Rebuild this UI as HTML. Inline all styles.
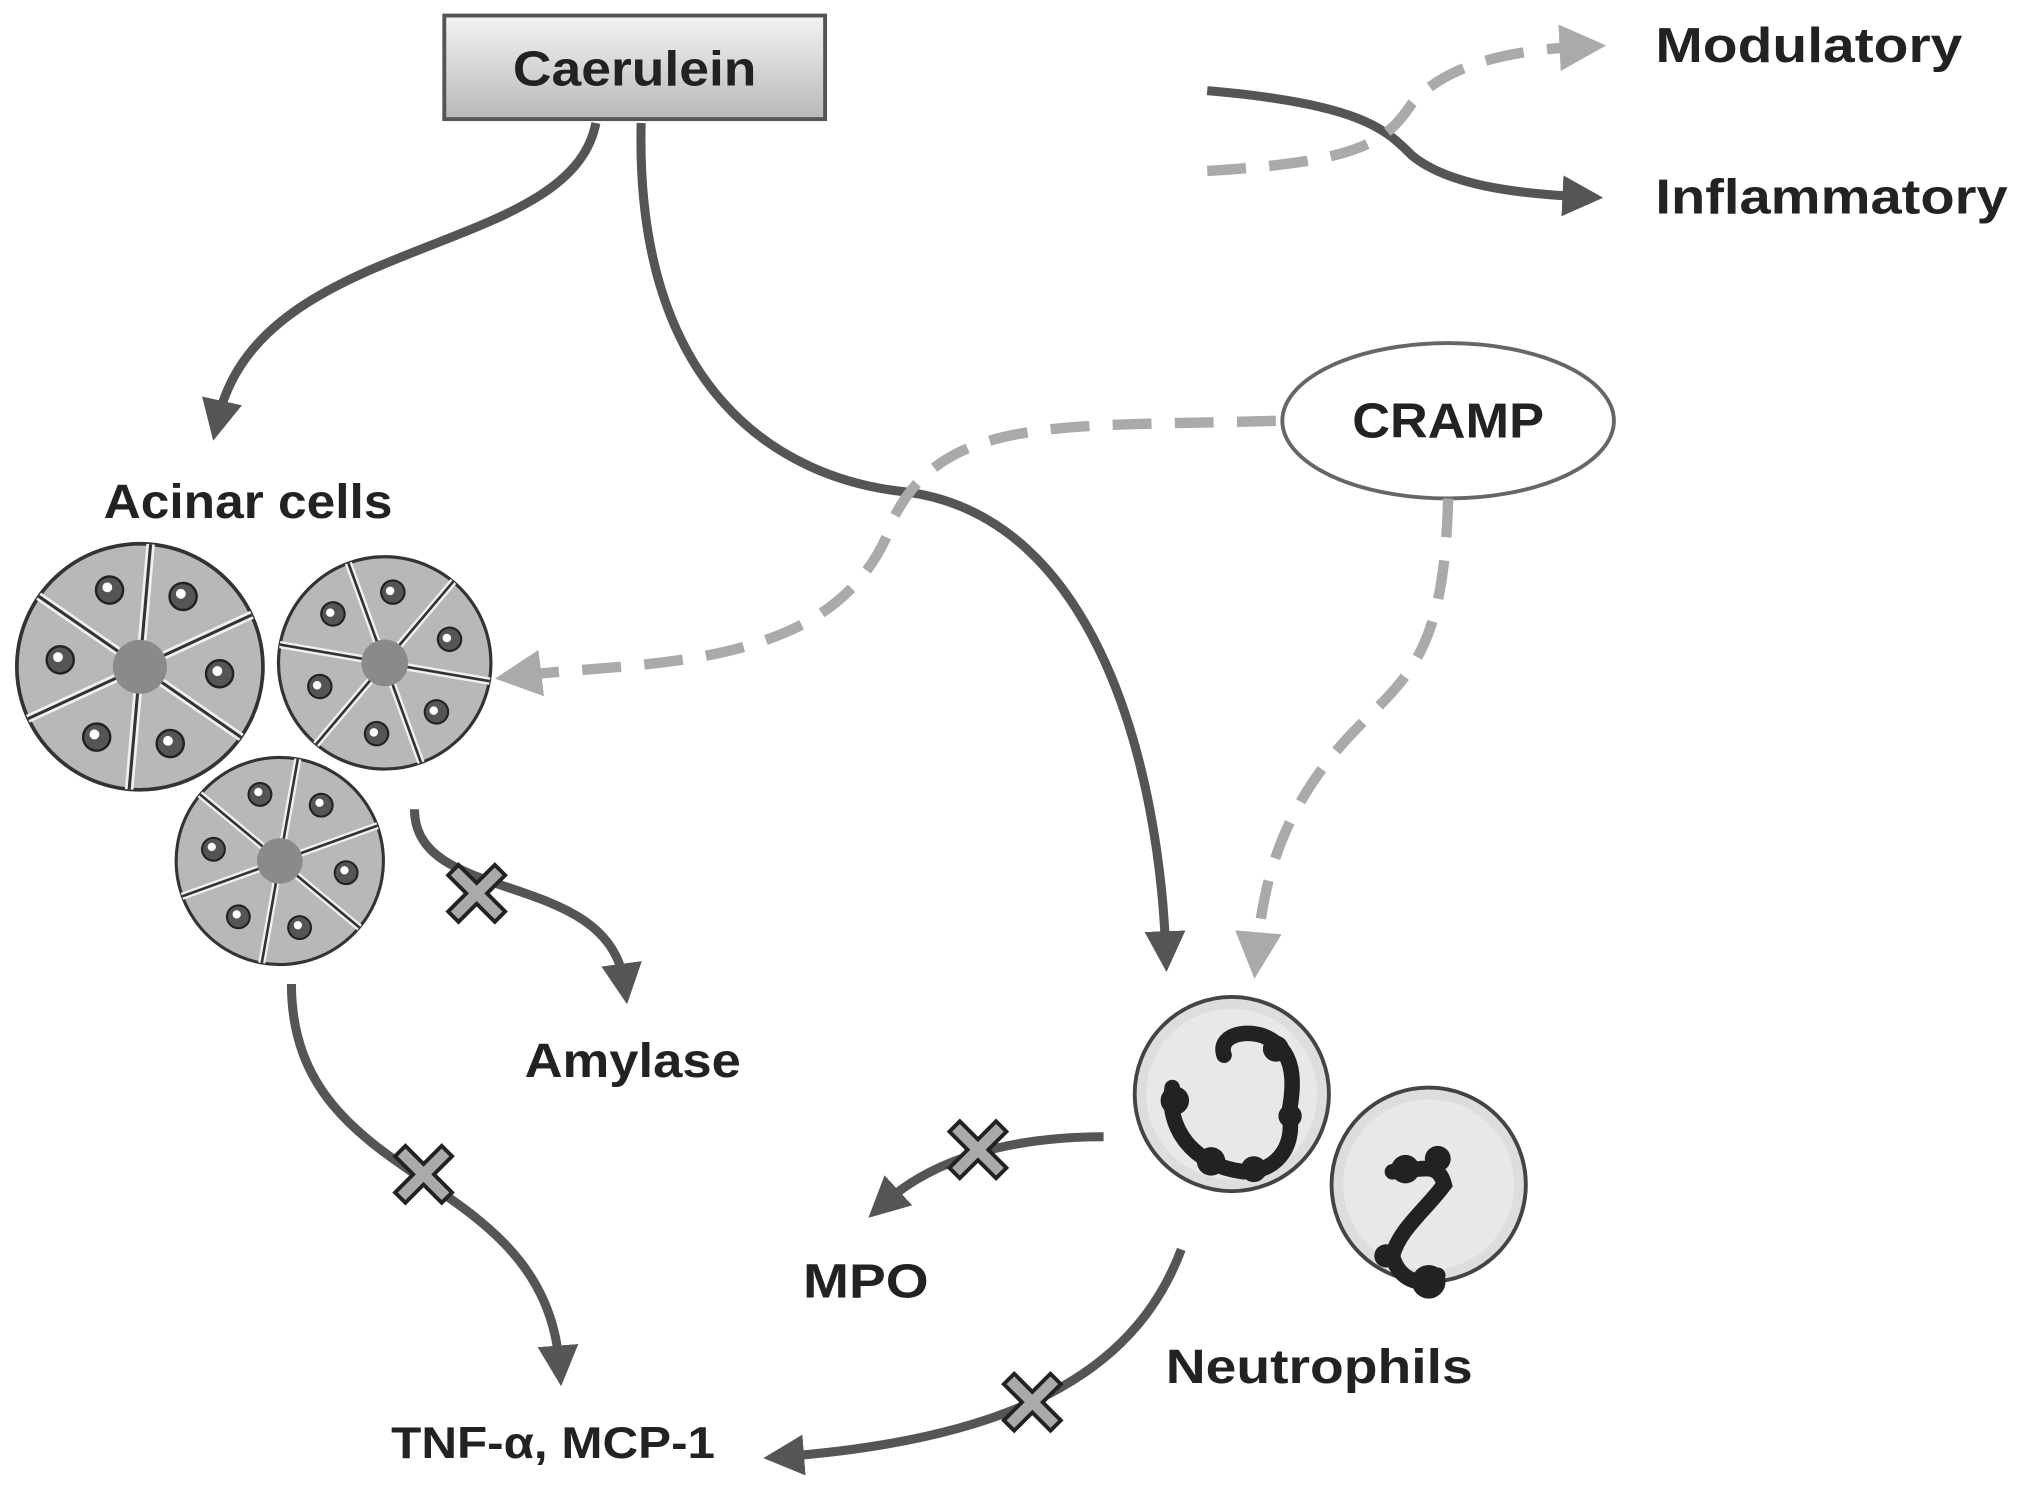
<!DOCTYPE html>
<html><head><meta charset="utf-8"><style>
html,body{margin:0;padding:0;background:#fff}
svg{display:block}
text{font-family:"Liberation Sans",sans-serif;font-weight:bold;fill:#222}
</style></head><body>
<svg width="2031" height="1498" viewBox="0 0 1568 1157" preserveAspectRatio="none" xmlns="http://www.w3.org/2000/svg">
<defs>
<linearGradient id="bx" x1="0" y1="0" x2="0" y2="1"><stop offset="0" stop-color="#f4f4f4"/><stop offset="1" stop-color="#b8b8b8"/></linearGradient>
<marker id="ah" viewBox="0 0 10 10" refX="5" refY="5" markerWidth="4.5" markerHeight="4.5" orient="auto"><path d="M0,0 L10,5 L0,10 z" fill="#555"/></marker>
<marker id="ahl" viewBox="0 0 10 10" refX="5" refY="5" markerWidth="4.5" markerHeight="4.5" orient="auto"><path d="M0,0 L10,5 L0,10 z" fill="#aaa"/></marker>
<g id="xm"><path d="M-22,-14 L-14,-22 L0,-8 L14,-22 L22,-14 L8,0 L22,14 L14,22 L0,8 L-14,22 L-22,14 L-8,0 z" fill="#aaa" stroke="#222" stroke-width="3"/></g>
<g id="cl">
<circle r="1" fill="#b8b8b8" stroke="#333" stroke-width="0.03"/>
<g stroke="#f0f0f0" stroke-width="0.07" fill="none">
<path d="M0,-0.2 L0,-1 M0.17,-0.1 L0.87,-0.5 M0.17,0.1 L0.87,0.5 M0,0.2 L0,1 M-0.17,0.1 L-0.87,0.5 M-0.17,-0.1 L-0.87,-0.5"/>
</g>
<g stroke="#333" stroke-width="0.025" fill="none">
<path d="M0,-0.2 L0,-1 M0.17,-0.1 L0.87,-0.5 M0.17,0.1 L0.87,0.5 M0,0.2 L0,1 M-0.17,0.1 L-0.87,0.5 M-0.17,-0.1 L-0.87,-0.5"/>
</g>
<circle r="0.22" fill="#8a8a8a"/>
<g fill="#555" stroke="#222" stroke-width="0.02">
<circle cx="0.3" cy="-0.6" r="0.11"/><circle cx="0.65" cy="0" r="0.11"/><circle cx="0.3" cy="0.6" r="0.11"/><circle cx="-0.3" cy="0.6" r="0.11"/><circle cx="-0.65" cy="0" r="0.11"/><circle cx="-0.3" cy="-0.6" r="0.11"/>
</g>
<g fill="#fff"><circle cx="0.28" cy="-0.62" r="0.04"/><circle cx="0.63" cy="-0.02" r="0.04"/><circle cx="0.28" cy="0.58" r="0.04"/><circle cx="-0.32" cy="0.58" r="0.04"/><circle cx="-0.67" cy="-0.02" r="0.04"/><circle cx="-0.32" cy="-0.62" r="0.04"/></g>
</g>
</defs>

<rect x="343" y="12" width="294" height="80" fill="url(#bx)" stroke="#555" stroke-width="3"/>
<text x="490" y="66" font-size="38" text-anchor="middle" textLength="188" lengthAdjust="spacingAndGlyphs">Caerulein</text>

<!-- legend -->
<path d="M932,70 C1050,80 1070,100 1090,120 C1120,145 1180,150 1222,152" stroke="#555" stroke-width="7" fill="none" marker-end="url(#ah)"/>
<path d="M932,132 C1050,125 1070,110 1090,80 C1120,45 1180,38 1222,36" stroke="#aaa" stroke-width="8" stroke-dasharray="30 18" fill="none" marker-end="url(#ahl)"/>
<text x="1278" y="48" font-size="38" textLength="237" lengthAdjust="spacingAndGlyphs">Modulatory</text>
<text x="1278" y="165" font-size="38" textLength="272" lengthAdjust="spacingAndGlyphs">Inflammatory</text>

<!-- CRAMP -->
<ellipse cx="1118" cy="325" rx="128" ry="60" fill="#fff" stroke="#666" stroke-width="3"/>
<text x="1118" y="338" font-size="38" text-anchor="middle" textLength="148" lengthAdjust="spacingAndGlyphs">CRAMP</text>

<!-- caerulein arrows -->
<path d="M460,95 C440,200 200,180 168,325" stroke="#555" stroke-width="7" fill="none" marker-end="url(#ah)"/>
<path d="M495,95 C490,300 600,370 700,380 C850,400 895,600 900,735" stroke="#555" stroke-width="7" fill="none" marker-end="url(#ah)"/>

<!-- dashed -->
<path d="M985,325 C820,330 730,320 690,400 C650,520 500,510 400,522" stroke="#aaa" stroke-width="8" stroke-dasharray="30 18" fill="none" marker-end="url(#ahl)"/>
<path d="M1118,385 C1115,500 1090,520 1050,560 C990,620 975,680 970,738" stroke="#aaa" stroke-width="8" stroke-dasharray="30 18" fill="none" marker-end="url(#ahl)"/>

<text x="80" y="400" font-size="37" textLength="223" lengthAdjust="spacingAndGlyphs">Acinar cells</text>
<use href="#cl" transform="translate(108,515) scale(95) rotate(5)"/>
<use href="#cl" transform="translate(297,512) scale(82) rotate(-20)"/>
<use href="#cl" transform="translate(216,665) scale(80) rotate(10)"/>

<!-- amylase -->
<path d="M320,625 C320,700 470,670 482,760" stroke="#555" stroke-width="7" fill="none" marker-end="url(#ah)"/>
<use href="#xm" transform="translate(368,690)"/>
<text x="405" y="832" font-size="37" textLength="167" lengthAdjust="spacingAndGlyphs">Amylase</text>

<!-- TNF -->
<path d="M225,760 C225,920 420,900 432,1055" stroke="#555" stroke-width="7" fill="none" marker-end="url(#ah)"/>
<use href="#xm" transform="translate(327,907)"/>
<text x="302" y="1126" font-size="34" textLength="250" lengthAdjust="spacingAndGlyphs">TNF-α, MCP-1</text>

<!-- neutrophils -->
<circle cx="951" cy="845" r="75" fill="#ddd" stroke="#444" stroke-width="3"/>
<circle cx="951" cy="845" r="66" fill="#e8e8e8"/>
<path d="M905,840 C900,870 920,900 960,905 C990,905 1000,880 995,860 C1000,835 1000,810 975,800 C960,795 940,800 945,815" stroke="#222" stroke-width="12" fill="none" stroke-linecap="round"/>
<g fill="#222"><circle cx="907" cy="850" r="11"/><circle cx="935" cy="897" r="11"/><circle cx="968" cy="903" r="10"/><circle cx="996" cy="862" r="9"/><circle cx="985" cy="810" r="10"/></g>
<circle cx="1103" cy="915" r="75" fill="#ddd" stroke="#444" stroke-width="3"/>
<circle cx="1103" cy="915" r="66" fill="#e8e8e8"/>
<path d="M1075,905 C1095,905 1110,895 1115,915 C1100,935 1080,950 1075,970 C1080,990 1100,995 1110,985" stroke="#222" stroke-width="12" fill="none" stroke-linecap="round"/>
<g fill="#222"><circle cx="1085" cy="903" r="11"/><circle cx="1110" cy="895" r="10"/><circle cx="1070" cy="970" r="9"/><circle cx="1103" cy="990" r="13"/></g>
<text x="900" y="1068" font-size="37" textLength="237" lengthAdjust="spacingAndGlyphs">Neutrophils</text>

<path d="M852,878 C780,878 720,895 682,930" stroke="#555" stroke-width="7" fill="none" marker-end="url(#ah)"/>
<use href="#xm" transform="translate(755,888)"/>
<text x="620" y="1002" font-size="37" textLength="97" lengthAdjust="spacingAndGlyphs">MPO</text>

<path d="M912,965 C880,1050 800,1110 605,1125" stroke="#555" stroke-width="7" fill="none" marker-end="url(#ah)"/>
<use href="#xm" transform="translate(797,1083)"/>
</svg>
</body></html>
